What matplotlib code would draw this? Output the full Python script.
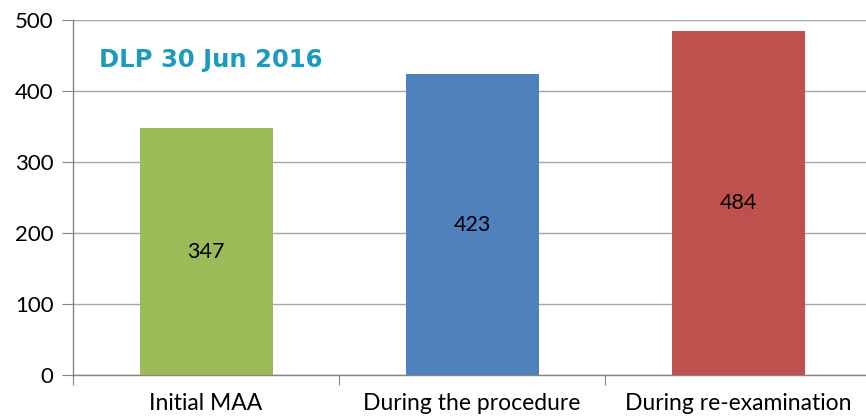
import matplotlib
matplotlib.use("Agg")
import matplotlib.pyplot as plt
import numpy as np

categories = ["Initial MAA", "During the procedure", "During re-examination"]
values = [347, 423, 484]
colors = ["#9BBB59", "#4F81BD", "#C0504D"]
yticks = [0, 100, 200, 300, 400, 500]
title = "DLP 30 Jun 2016"

plt.rcParams["font.family"] = ["Lato", "DejaVu Sans"]

fig = plt.figure(figsize=(8.66, 4.2), dpi=100)
ax = fig.add_axes([73 / 866, 45 / 420, 798 / 866, 355.5 / 420])

x = np.arange(len(categories))
bars = ax.bar(x, values, width=0.5, color=colors, zorder=3)

# value in the middle of each bar
for b, v in zip(bars, values):
    ax.text(b.get_x() + b.get_width() / 2, v / 2, str(v),
            ha="center", va="center", fontsize=15.5, color="black", zorder=4)

ax.set_xlim(-0.5, len(categories) - 0.5)
ax.set_ylim(0, 500)
ax.set_yticks(yticks)
ax.set_yticklabels([str(t) for t in yticks], fontsize=16)
ax.yaxis.grid(True, color="#a6a6a6", linewidth=1, zorder=0)

# category ticks at boundaries, labels centred
ax.set_xticks(np.arange(len(categories) + 1) - 0.5)
ax.set_xticklabels([])
ax.set_xticks(x, minor=True)
ax.set_xticklabels(categories, minor=True, fontsize=16.5)
ax.tick_params(axis="x", which="minor", length=0, pad=13)
ax.tick_params(axis="x", which="major", length=7, color="#868686")
ax.tick_params(axis="y", length=8, color="#868686", pad=6)

for s in ["top", "right"]:
    ax.spines[s].set_visible(False)
for s in ["left", "bottom"]:
    ax.spines[s].set_color("#868686")
    ax.spines[s].set_linewidth(1)

fig.text(99 / 866, 1 - 60 / 420, title, fontsize=17.5, fontweight="bold",
         color="#1a9bbf", family="DejaVu Sans", va="center", ha="left")

fig.savefig("out.png", dpi=100)
